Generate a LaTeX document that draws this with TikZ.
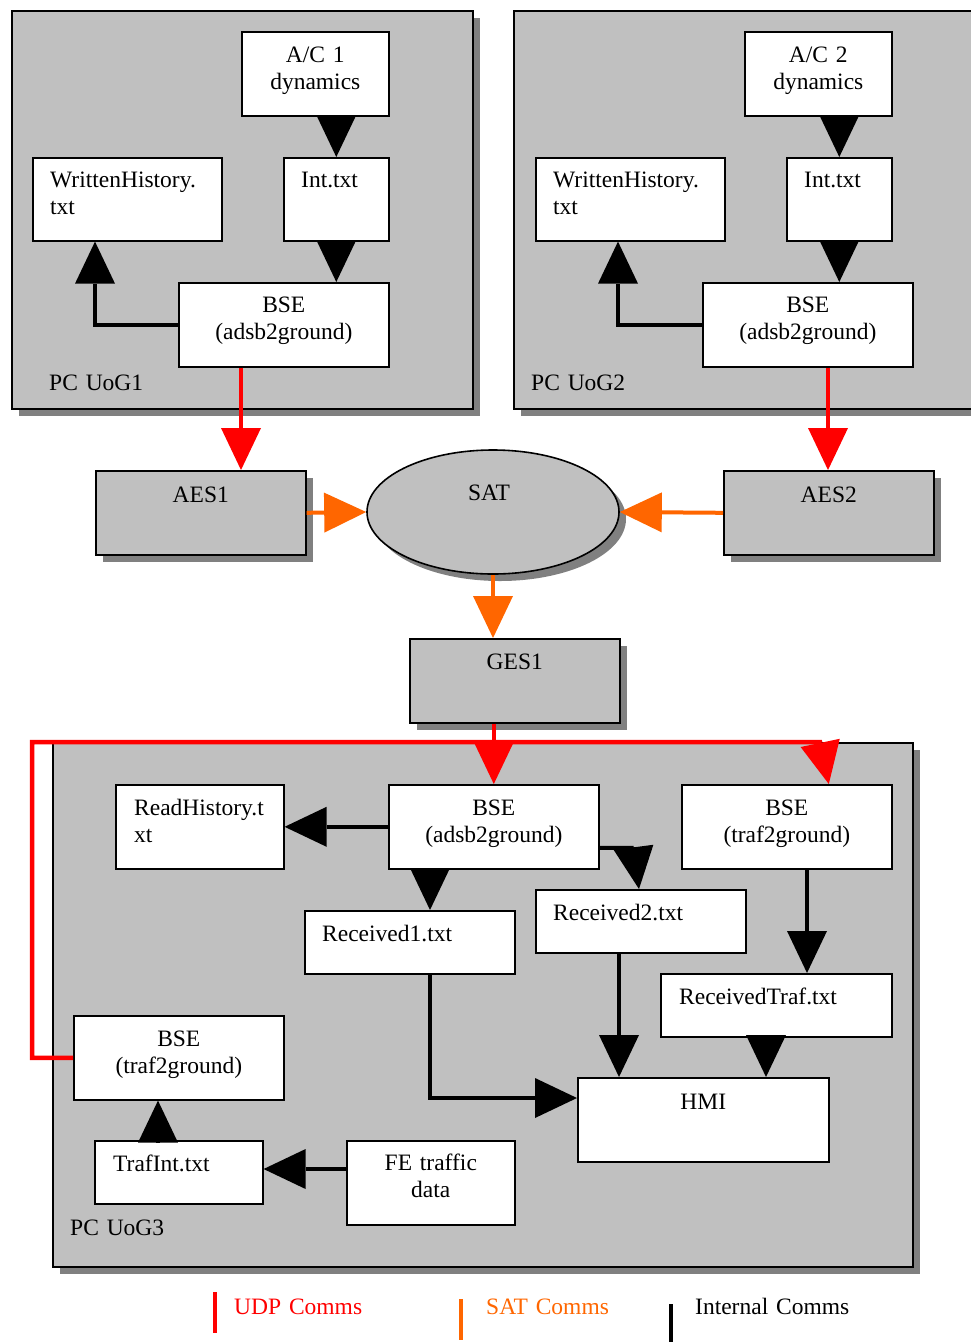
\documentclass[tikz,border=0pt]{standalone}
\usepackage{fontspec}
\setmainfont{Liberation Serif}
\usetikzlibrary{arrows.meta,calc,shadows,shapes.geometric}
\definecolor{panel}{HTML}{C0C0C0}
\definecolor{shade}{HTML}{808080}
\definecolor{udp}{HTML}{FF0000}
\definecolor{satc}{HTML}{FF6600}

\begin{document}
\begin{tikzpicture}[x=1pt,y=-1pt,
  every node/.style={font=\fontsize{23.5}{27}\selectfont},
  box/.style={draw=black, fill=white, line width=1.6pt, inner sep=0pt, anchor=north west},
  dshadow/.style={drop shadow={shadow xshift=7pt,shadow yshift=-7pt,opacity=1,fill=shade}},
  graybox/.style={box, fill=panel, dshadow},
  pcbox/.style={box, fill=panel, line width=2pt, dshadow},
  ct/.style={anchor=base, align=center, text width=230pt, inner sep=0pt},
  lt/.style={anchor=base west, align=left, text width=200pt, inner sep=0pt},
  tip/.style={-{Triangle[length=42pt,width=40pt,line width=0pt]}},
  blk/.style={tip, line width=4pt, draw=black},
  udpline/.style={tip, line width=4.5pt, draw=udp},
  satline/.style={tip, line width=4pt, draw=satc},
]
\useasboundingbox (0,0) rectangle (970,1342);

% ---------- PC UoG1 ----------
\node[pcbox, minimum width=461pt, minimum height=398pt] (uog1) at (11,10) {};
\node[box, minimum width=147pt, minimum height=84pt] (ac1) at (241,31) {};
\node[box, minimum width=105pt, minimum height=83pt] (int1) at (283,157) {};
\node[box, minimum width=189pt, minimum height=83pt] (wh1) at (32,157) {};
\node[box, minimum width=210pt, minimum height=84pt] (bse1) at (178,282) {};
\node[ct] (ac1t) at ($(ac1.north)+(0,31)$) {A/C 1\\dynamics};
\node[lt] (int1t) at ($(int1.north west)+(18,30)$) {Int.txt};
\node[lt] (wh1t) at ($(wh1.north west)+(18,30)$) {WrittenHistory.\\txt};
\node[ct] (bse1t) at ($(bse1.north)+(0,30)$) {BSE\\(adsb2ground)};
\node[lt] (uog1t) at ($(uog1.north west)+(38,380)$) {PC UoG1};

% ---------- PC UoG2 ----------
\node[pcbox, minimum width=465pt, minimum height=398pt] (uog2) at (513,10) {};
\node[box, minimum width=147pt, minimum height=84pt] (ac2) at (744,31) {};
\node[box, minimum width=105pt, minimum height=83pt] (int2) at (786,157) {};
\node[box, minimum width=189pt, minimum height=83pt] (wh2) at (535,157) {};
\node[box, minimum width=210pt, minimum height=84pt] (bse2) at (702,282) {};
\node[ct] (ac2t) at ($(ac2.north)+(0,31)$) {A/C 2\\dynamics};
\node[lt] (int2t) at ($(int2.north west)+(18,30)$) {Int.txt};
\node[lt] (wh2t) at ($(wh2.north west)+(18,30)$) {WrittenHistory.\\txt};
\node[ct] (bse2t) at ($(bse2.north)+(0,30)$) {BSE\\(adsb2ground)};
\node[lt] (uog2t) at ($(uog2.north west)+(18,380)$) {PC UoG2};

% ---------- satellite link ----------
\node[graybox, minimum width=210pt, minimum height=84pt] (aes1) at (95,470) {};
\node[graybox, minimum width=210pt, minimum height=84pt] (aes2) at (723,470) {};
\node[graybox, minimum width=210pt, minimum height=84pt] (ges1) at (409,638) {};
\node[ellipse, draw=black, fill=panel, line width=1.6pt, inner sep=0pt,
      minimum width=252pt, minimum height=124pt, dshadow] (sat) at (493,512) {};
\node[ct] (aes1t) at ($(aes1.north)+(0,32)$) {AES1};
\node[ct] (aes2t) at ($(aes2.north)+(0,32)$) {AES2};
\node[ct] (ges1t) at ($(ges1.north)+(0,31)$) {GES1};
\node[ct] (satt) at ($(sat.north)+(-4,51)$) {SAT};

% ---------- PC UoG3 ----------
\node[pcbox, minimum width=860pt, minimum height=524pt] (uog3) at (52,742) {};
\node[box, minimum width=168pt, minimum height=84pt] (rh) at (115,784) {};
\node[box, minimum width=210pt, minimum height=84pt] (bse3) at (388,784) {};
\node[box, minimum width=210pt, minimum height=84pt] (bse4) at (681,784) {};
\node[box, minimum width=210pt, minimum height=63pt] (rec1) at (304,910) {};
\node[box, minimum width=210pt, minimum height=63pt] (rec2) at (535,889) {};
\node[box, minimum width=231pt, minimum height=63pt] (rect) at (660,973) {};
\node[box, minimum width=210pt, minimum height=84pt] (bse5) at (73,1015) {};
\node[box, minimum width=251pt, minimum height=84pt] (hmi) at (577,1077) {};
\node[box, minimum width=168pt, minimum height=63pt] (ti) at (94,1140) {};
\node[box, minimum width=168pt, minimum height=84pt] (fe) at (346,1140) {};
\node[lt] (rht) at ($(rh.north west)+(19,31)$) {ReadHistory.t\\xt};
\node[ct] (bse3t) at ($(bse3.north)+(0,31)$) {BSE\\(adsb2ground)};
\node[ct] (bse4t) at ($(bse4.north)+(0,31)$) {BSE\\(traf2ground)};
\node[lt] (rec1t) at ($(rec1.north west)+(18,31)$) {Received1.txt};
\node[lt] (rec2t) at ($(rec2.north west)+(18,31)$) {Received2.txt};
\node[lt] (rectt) at ($(rect.north west)+(19,31)$) {ReceivedTraf.txt};
\node[ct] (bse5t) at ($(bse5.north)+(0,31)$) {BSE\\(traf2ground)};
\node[ct] (hmit) at ($(hmi.north)+(0,32)$) {HMI};
\node[lt] (tit) at ($(ti.north west)+(19,31)$) {TrafInt.txt};
\node[ct] (fet) at ($(fe.north)+(0,30)$) {FE traffic\\data};
\node[lt] (uog3t) at ($(uog3.north west)+(18,493)$) {PC UoG3};

% ---------- connector anchor points ----------
\coordinate (c1) at ($(wh1.south west)+(63,0)$);
\coordinate (r1) at ($(bse1.south west)+(63,0)$);
\coordinate (c2) at ($(wh2.south west)+(83,0)$);
\coordinate (r2) at ($(bse2.south west)+(126,0)$);
\coordinate (rc) at ($(uog3.north west)+(-20,0)$);
\coordinate (rk) at ($(uog3.north west)+(768,0)$);
\coordinate (rt) at ($(bse4.north)+(42,0)$);
\coordinate (a1) at ($(bse3.south west)+(42,0)$);
\coordinate (b1) at ($(bse3.east)+(0,21)$);
\coordinate (b2) at ($(bse3.east)+(34,21)$);
\coordinate (b3) at ($(rec2.north west)+(104,0)$);
\coordinate (a2) at ($(bse4.south west)+(126,0)$);
\coordinate (h1) at ($(hmi.north west)+(0,21)$);
\coordinate (a3) at ($(rec2.south west)+(84,0)$);
\coordinate (a4) at ($(rect.south west)+(106,0)$);
\coordinate (a5) at ($(ti.north west)+(64,0)$);
\coordinate (a6) at ($(fe.north west)+(0,29)$);

% ---------- internal comms ----------
\draw[blk] (int1.north |- ac1.south) -- (int1.north);
\draw[blk] (int1.south) -- (int1.south |- bse1.north);
\draw[blk] (bse1.west) -| (c1);
\draw[blk] (int2.north |- ac2.south) -- (int2.north);
\draw[blk] (int2.south) -- (int2.south |- bse2.north);
\draw[blk] (bse2.west) -| (c2);
\draw[blk] (bse3.west) -- (rh.east);
\draw[blk] (a1) -- (a1 |- rec1.north);
\draw[blk] (b1) -- (b2) -- (b3);
\draw[blk] (a2) -- (a2 |- rect.north);
\draw[blk] (a1 |- rec1.south) |- (h1);
\draw[blk] (a3) -- (a3 |- hmi.north);
\draw[blk] (a4) -- (a4 |- hmi.north);
\draw[blk] (a5) -- (a5 |- bse5.south);
\draw[blk] (a6) -- (a6 -| ti.east);

% ---------- SAT comms ----------
\draw[satline] (aes1.east) -- (sat.west);
\draw[satline] (aes2.west) -- (sat.east);
\draw[satline] (sat.south) -- (sat.south |- ges1.north);

% ---------- UDP comms ----------
\draw[udpline] (r1) -- (r1 |- aes1.north);
\draw[udpline] (r2) -- (r2 |- aes2.north);
\draw[udpline] (bse3.north |- ges1.south) -- (bse3.north);
\draw[udpline] (bse5.west) -| (rc) -- (rk) -- (rt);

% ---------- legend ----------
\draw[udp, line width=4pt] (215,1292) -- (215,1333);
\node[lt, text=udp] (lg1) at (234,1314) {UDP Comms};
\draw[satc, line width=4pt] (461,1299) -- (461,1340);
\node[lt, text=satc] (lg2) at (486,1314) {SAT Comms};
\draw[black, line width=4pt] (671,1304) -- (671,1342);
\node[lt] (lg3) at (695,1314) {Internal Comms};
\end{tikzpicture}
\end{document}
